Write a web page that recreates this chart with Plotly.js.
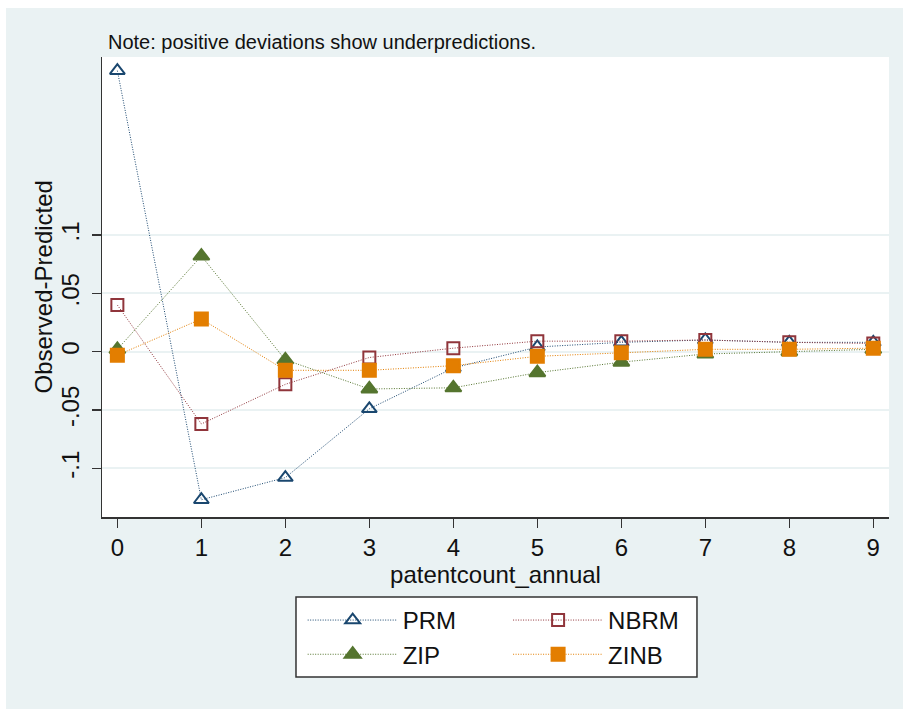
<!DOCTYPE html>
<html>
<head>
<meta charset="utf-8">
<script src="https://cdn.plot.ly/plotly-3.0.1.min.js"></script>
<style>
  html, body { margin: 0; padding: 0; background: #eaf2f3; overflow: hidden; }
  #stripL { position: absolute; left: 0; top: 0; width: 6px; height: 709px; background: #ffffff; }
  #stripT { position: absolute; left: 0; top: 0; width: 903px; height: 8px; background: #ffffff; }
  #chart { position: absolute; left: 6px; top: 8px; width: 897px; height: 701px; }
</style>
</head>
<body>
<div id="stripL"></div>
<div id="stripT"></div>
<div id="chart"></div>
<script>
// Data
const counts = [0, 1, 2, 3, 4, 5, 6, 7, 8, 9];
const prm  = [0.241, -0.127, -0.108, -0.049, -0.014, 0.004, 0.008, 0.010, 0.008, 0.008];
const nbrm = [0.040, -0.062, -0.028, -0.005, 0.003, 0.009, 0.009, 0.010, 0.008, 0.007];
const zip  = [0.002, 0.082, -0.007, -0.032, -0.031, -0.018, -0.009, -0.002, 0.000, 0.002];
const zinb = [-0.003, 0.028, -0.016, -0.016, -0.012, -0.004, -0.001, 0.002, 0.002, 0.003];
const yTickVals = [-0.1, -0.05, 0, 0.05, 0.1];
const yTickText = ['-.1', '-.05', '0', '.05', '.1'];
const xTickVals = [0, 1, 2, 3, 4, 5, 6, 7, 8, 9];

const FONT = 'Liberation Sans, Arial, sans-serif';
const navy = '#1a476f', maroon = '#90353b', green = '#55752f', orange = '#e37e00';

function tr(name, y, color, symbol, size, legend) {
  return {
    x: counts, y: y, name: name, type: 'scatter', mode: 'lines+markers',
    line: { color: color, width: 1, dash: '1px,1.5px' },
    marker: { symbol: symbol, size: size, color: color, line: { color: color, width: 2 } },
    legend: legend
  };
}

const data = [
  tr('PRM', prm, navy, 'triangle-up-open', 13, 'legend'),
  tr('NBRM', nbrm, maroon, 'square-open', 12, 'legend2'),
  tr('ZIP', zip, green, 'triangle-up', 14, 'legend'),
  tr('ZINB', zinb, orange, 'square', 13, 'legend2')
];

const legendCommon = {
  orientation: 'v', bgcolor: 'rgba(0,0,0,0)', borderwidth: 0,
  font: { family: FONT, size: 24, color: '#111' },
  itemwidth: 90, yanchor: 'top', xanchor: 'left', tracegroupgap: 0
};

const layout = {
  width: 897, height: 701,
  margin: { l: 96, r: 14, t: 49, b: 192 },
  paper_bgcolor: '#eaf2f3',
  plot_bgcolor: '#ffffff',
  font: { family: FONT, size: 24, color: '#111' },
  showlegend: true,
  legend: Object.assign({}, legendCommon, { x: 0.255, y: -0.176 }),
  legend2: Object.assign({}, legendCommon, { x: 0.516, y: -0.176 }),
  xaxis: {
    range: [-0.183, 9.187],
    tickvals: xTickVals,
    ticks: 'outside', ticklen: 9, tickwidth: 1.5, tickcolor: '#333',
    showgrid: false, zeroline: false,
    showline: true, linecolor: '#333', linewidth: 1.5,
    tickfont: { family: FONT, size: 24, color: '#111' },
    title: { text: 'patentcount_annual', font: { family: FONT, size: 24, color: '#111' }, standoff: 1 }
  },
  yaxis: {
    range: [-0.1418, 0.2527],
    tickvals: yTickVals, ticktext: yTickText,
    tickangle: -90,
    ticks: 'outside', ticklen: 9, tickwidth: 1.5, tickcolor: '#333',
    ticklabelstandoff: 3,
    showgrid: true, gridcolor: '#eaf2f3', gridwidth: 2,
    zeroline: false,
    showline: true, linecolor: '#333', linewidth: 1.5,
    tickfont: { family: FONT, size: 24, color: '#111' }
  },
  annotations: [{
    text: 'Note: positive deviations show underpredictions.',
    xref: 'paper', yref: 'paper', x: 0, y: 1, xanchor: 'left', yanchor: 'bottom',
    xshift: 4, yshift: 2, showarrow: false,
    font: { family: FONT, size: 20, color: '#111' }
  }, {
    text: 'Observed-Predicted',
    xref: 'paper', yref: 'paper', x: 0, y: 0.5, xanchor: 'right', yanchor: 'middle',
    xshift: -44, textangle: -90, showarrow: false,
    font: { family: FONT, size: 24, color: '#111' }
  }],
  shapes: [{
    type: 'rect', xref: 'paper', yref: 'paper',
    x0: 0.2465, x1: 0.756, y0: -0.348, y1: -0.174,
    fillcolor: '#ffffff', line: { color: '#333', width: 1.5 }, layer: 'below'
  }]
};

Plotly.newPlot('chart', data, layout, { displayModeBar: false, staticPlot: true });
</script>
</body>
</html>
